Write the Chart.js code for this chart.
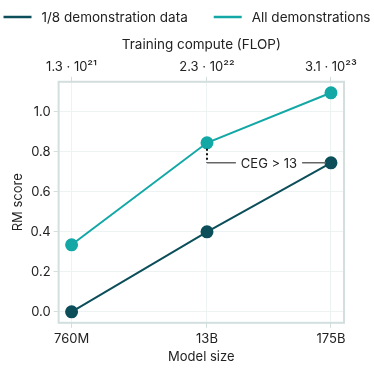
<!DOCTYPE html>
<html>
<head>
<meta charset="utf-8">
<script src="https://cdn.jsdelivr.net/npm/chart.js@4"></script>
<style>
  html, body { margin: 0; padding: 0; background: #fff; }
  #wrap { width: 374px; height: 374px; }
</style>
</head>
<body>
<div id="wrap"><canvas id="chart"></canvas></div>
<script>
// data
const modelSizes = [7.6e8, 1.3e10, 1.75e11];
const modelLabels = ["760M", "13B", "175B"];
const computeLabels = ["1.3 · 10²¹", "2.3 · 10²²", "3.1 · 10²³"];
const eighthData = [0.0, 0.40, 0.745];
const allData = [0.335, 0.845, 1.095];
const yTicks = [0.0, 0.2, 0.4, 0.6, 0.8, 1.0];
const cegLabel = "CEG > 13";

const dark = "#0c4f5a";
const teal = "#13a8a6";
const gridCol = "#edf3f3";
const borderCol = "#d3dede";
const font = "Inter";

const pts = (ys) => modelSizes.map((x, i) => ({ x: x, y: ys[i] }));

// light frame round the plot
const framePlugin = {
  id: "frame",
  afterDraw(chart) {
    const a = chart.chartArea, ctx = chart.ctx;
    ctx.save();
    ctx.strokeStyle = borderCol;
    ctx.lineWidth = 2;
    ctx.strokeRect(a.left, a.top, a.right - a.left, a.bottom - a.top);
    ctx.restore();
  }
};

// one-row legend across the top (built-in one wraps at this width)
const legendPlugin = {
  id: "rowLegend",
  afterDraw(chart) {
    const ctx = chart.ctx;
    const sets = chart.data.datasets;
    const lineW = 28, gapText = 10, gapItem = 26, y = 17;
    ctx.save();
    ctx.font = "13.5px " + font;
    const widths = sets.map(d => lineW + gapText + ctx.measureText(d.label).width);
    const total = widths.reduce((a, b) => a + b, 0) + gapItem * (sets.length - 1);
    let x = (chart.width - total) / 2;
    sets.forEach((d, i) => {
      ctx.strokeStyle = d.borderColor;
      ctx.lineWidth = 2.5;
      ctx.beginPath();
      ctx.moveTo(x, y);
      ctx.lineTo(x + lineW, y);
      ctx.stroke();
      ctx.fillStyle = "#222";
      ctx.textBaseline = "middle";
      ctx.fillText(d.label, x + lineW + gapText, y + 1);
      x += widths[i] + gapItem;
    });
    ctx.restore();
  }
};

// dotted drop from the teal 13B point + labelled line to the dark 175B point
const cegPlugin = {
  id: "ceg",
  afterDatasetsDraw(chart) {
    const xs = chart.scales.x, ys = chart.scales.y;
    const ctx = chart.ctx;
    const x0 = xs.getPixelForValue(modelSizes[1]);
    const x1 = xs.getPixelForValue(modelSizes[2]);
    const yTop = ys.getPixelForValue(allData[1]);
    const yLev = ys.getPixelForValue(eighthData[2]);
    ctx.save();
    ctx.strokeStyle = "#111";
    ctx.lineWidth = 2;
    ctx.setLineDash([2, 2.5]);
    ctx.beginPath();
    ctx.moveTo(x0, yTop + 6);
    ctx.lineTo(x0, yLev);
    ctx.stroke();
    ctx.setLineDash([]);
    ctx.strokeStyle = "#666";
    ctx.lineWidth = 1.5;
    ctx.beginPath();
    ctx.moveTo(x0, yLev);
    ctx.lineTo(x1 - 5, yLev);
    ctx.stroke();
    ctx.font = "13px " + font;
    const w = ctx.measureText(cegLabel).width;
    const cx = (x0 + x1) / 2;
    ctx.fillStyle = "#fff";
    ctx.fillRect(cx - w / 2 - 5, yLev - 8, w + 10, 16);
    ctx.fillStyle = "#222";
    ctx.textAlign = "center";
    ctx.textBaseline = "middle";
    ctx.fillText(cegLabel, cx, yLev + 1);
    ctx.restore();
  }
};

const logTicks = (scale) => {
  scale.ticks = modelSizes.map(v => ({ value: v }));
};

new Chart(document.getElementById("chart"), {
  type: "line",
  data: {
    datasets: [
      {
        label: "1/8 demonstration data",
        data: pts(eighthData),
        borderColor: dark,
        backgroundColor: dark,
        borderWidth: 2,
        pointRadius: 5.5,
        pointHoverRadius: 5.5
      },
      {
        label: "All demonstrations",
        data: pts(allData),
        borderColor: teal,
        backgroundColor: teal,
        borderWidth: 2,
        pointRadius: 5.5,
        pointHoverRadius: 5.5
      }
    ]
  },
  options: {
    responsive: true,
    maintainAspectRatio: false,
    animation: false,
    layout: { padding: { left: 10, right: 0, top: 37, bottom: 9 } },
    plugins: {
      tooltip: { enabled: false },
      legend: { display: false }
    },
    scales: {
      x: {
        type: "logarithmic",
        position: "bottom",
        min: 5.79e8,
        max: 2.3e11,
        afterBuildTicks: logTicks,
        ticks: {
          color: "#222",
          font: { family: font, size: 13 },
          maxRotation: 0,
          padding: 3,
          callback: (v) => modelLabels[modelSizes.indexOf(v)]
        },
        grid: { color: gridCol, tickColor: borderCol, tickLength: 5 },
        border: { display: false },
        title: { display: true, text: "Model size", color: "#222", font: { family: font, size: 13 }, padding: { top: 0, bottom: 0 } }
      },
      x2: {
        type: "logarithmic",
        position: "top",
        min: 5.79e8,
        max: 2.3e11,
        afterBuildTicks: logTicks,
        ticks: {
          color: "#222",
          font: { family: font, size: 13 },
          maxRotation: 0,
          padding: 2,
          callback: (v) => computeLabels[modelSizes.indexOf(v)]
        },
        grid: { drawOnChartArea: false, tickColor: borderCol, tickLength: 5 },
        border: { display: false },
        title: { display: true, text: "Training compute (FLOP)", color: "#222", font: { family: font, size: 13.5 }, padding: { top: 0, bottom: 4 } }
      },
      y: {
        min: -0.055,
        max: 1.15,
        afterBuildTicks: (scale) => { scale.ticks = yTicks.map(v => ({ value: v })); },
        ticks: {
          color: "#222",
          font: { family: font, size: 13 },
          padding: 3,
          callback: (v) => v.toFixed(1)
        },
        grid: { color: gridCol, tickColor: borderCol, tickLength: 5 },
        border: { display: false },
        title: { display: true, text: "RM score", color: "#222", font: { family: font, size: 13 }, padding: { top: 0, bottom: 2 } }
      },
      y2: {
        position: "right",
        min: -0.055,
        max: 1.15,
        ticks: { display: false },
        grid: { display: false },
        border: { display: false },
        afterFit: (s) => { s.width = 30; }
      }
    }
  },
  plugins: [cegPlugin, framePlugin, legendPlugin]
});
</script>
</body>
</html>
